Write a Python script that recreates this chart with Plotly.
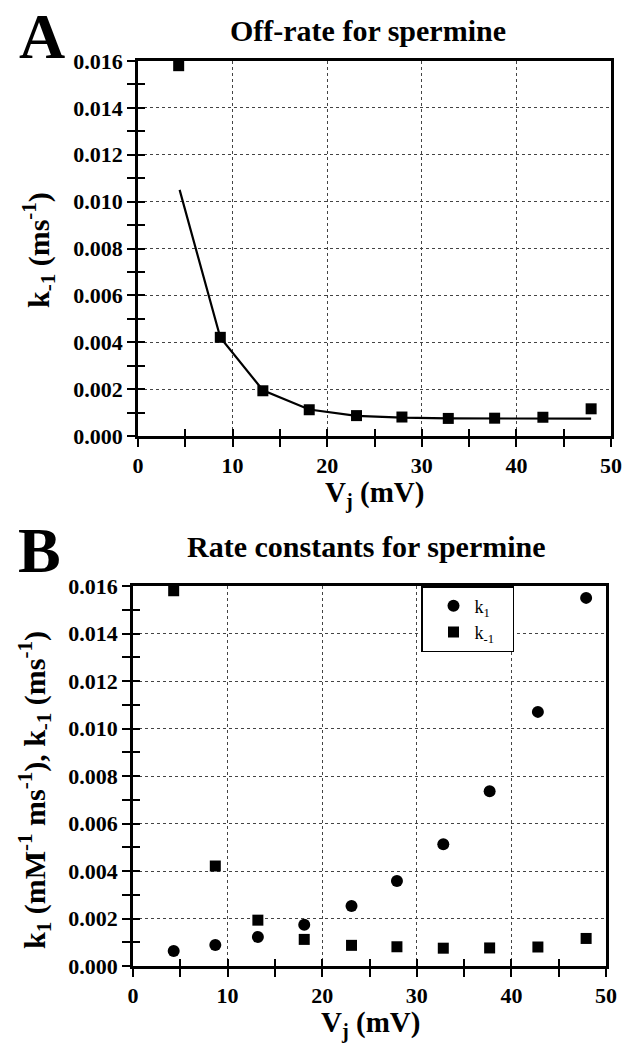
import plotly.graph_objects as go

# ---- data ----
vj = [4.3, 8.7, 13.2, 18.1, 23.1, 27.9, 32.8, 37.7, 42.8, 47.9]
k_off = [0.0158, 0.00421, 0.00193, 0.00112, 0.00087, 0.00081, 0.00075, 0.00076, 0.00080, 0.00116]
fit_x = [4.4, 8.7, 13.2, 18.1, 23.1, 27.9, 32.8, 37.7, 42.8, 47.9]
fit_y = [0.0105, 0.0042, 0.00195, 0.00113, 0.00086, 0.00078, 0.00075, 0.00074, 0.00074, 0.00074]
k_on = [0.00063, 0.00088, 0.00122, 0.00174, 0.00253, 0.00358, 0.00513, 0.00736, 0.0107, 0.0155]
x_ticks = [0, 10, 20, 30, 40, 50]
y_ticks = [0.000, 0.002, 0.004, 0.006, 0.008, 0.010, 0.012, 0.014, 0.016]

W, H = 634, 1045
FONT = "Liberation Serif"

def px(x):
    return x / W

def py(y):
    return 1 - y / H

# panel geometry (pixels)
A_x = [138, 611]
A_y = [61, 436]
B_x = [133, 606]
B_y = [586, 966]

fig = go.Figure()

# Panel A
fig.add_trace(go.Scatter(x=fit_x, y=fit_y, mode="lines", line=dict(color="black", width=2.2),
                         xaxis="x", yaxis="y", showlegend=False))
fig.add_trace(go.Scatter(x=vj, y=k_off, mode="markers",
                         marker=dict(symbol="square", size=11, color="black"),
                         xaxis="x", yaxis="y", showlegend=False))
# Panel B
fig.add_trace(go.Scatter(x=vj, y=k_on, mode="markers", name="k<sub>1</sub>&nbsp;&nbsp;&nbsp;",
                         marker=dict(symbol="circle", size=12, color="black"),
                         xaxis="x2", yaxis="y2"))
fig.add_trace(go.Scatter(x=vj, y=k_off, mode="markers", name="k<sub>-1</sub>&nbsp;&nbsp;&nbsp;",
                         marker=dict(symbol="square", size=11, color="black"),
                         xaxis="x2", yaxis="y2"))
# invisible traces for inside-tick overlay axes
for xa, ya in [("x3", "y3"), ("x4", "y4")]:
    fig.add_trace(go.Scatter(x=[None], y=[None], xaxis=xa, yaxis=ya, showlegend=False, hoverinfo="skip"))

tickfont = dict(family=FONT, size=22, color="black", weight="bold")

def xaxis_main(domain, anchor):
    return dict(domain=domain, anchor=anchor, range=[0, 50], tickvals=x_ticks,
                ticks="outside", ticklen=8, tickwidth=2, tickcolor="black",
                minor=dict(dtick=5, ticks="outside", ticklen=8, tickwidth=2, tickcolor="black", showgrid=False),
                showgrid=True, gridcolor="#444", gridwidth=1, griddash="dot",
                showline=True, linecolor="black", linewidth=2.5, mirror=True,
                zeroline=False, tickfont=tickfont, automargin=False)

def yaxis_main(domain, anchor):
    return dict(domain=domain, anchor=anchor, range=[0, 0.016], tickvals=y_ticks, tickformat=".3f",
                ticks="outside", ticklen=8, tickwidth=2, tickcolor="black",
                minor=dict(dtick=0.001, ticks="outside", ticklen=8, tickwidth=2, tickcolor="black", showgrid=False),
                showgrid=True, gridcolor="#444", gridwidth=1, griddash="dot",
                showline=True, linecolor="black", linewidth=2.5, mirror=True,
                zeroline=False, tickfont=tickfont, automargin=False)

def xaxis_in(domain, anchor, over):
    return dict(domain=domain, anchor=anchor, overlaying=over, range=[0, 50], tickvals=x_ticks,
                ticks="inside", ticklen=7, tickwidth=2, tickcolor="black",
                minor=dict(dtick=5, ticks="inside", ticklen=7, tickwidth=2, tickcolor="black"),
                showticklabels=False, showgrid=False, showline=False, zeroline=False)

def yaxis_in(domain, anchor, over):
    return dict(domain=domain, anchor=anchor, overlaying=over, range=[0, 0.016], tickvals=y_ticks,
                ticks="inside", ticklen=7, tickwidth=2, tickcolor="black",
                minor=dict(dtick=0.001, ticks="inside", ticklen=7, tickwidth=2, tickcolor="black"),
                showticklabels=False, showgrid=False, showline=False, zeroline=False)

dAx = [px(A_x[0]), px(A_x[1])]
dAy = [py(A_y[1]), py(A_y[0])]
dBx = [px(B_x[0]), px(B_x[1])]
dBy = [py(B_y[1]), py(B_y[0])]

fig.update_layout(
    width=W, height=H, margin=dict(l=0, r=0, t=0, b=0),
    paper_bgcolor="white", plot_bgcolor="white",
    font=dict(family=FONT, color="black"),
    xaxis=xaxis_main(dAx, "y"), yaxis=yaxis_main(dAy, "x"),
    xaxis2=xaxis_main(dBx, "y2"), yaxis2=yaxis_main(dBy, "x2"),
    xaxis3=xaxis_in(dAx, "y3", "x"), yaxis3=yaxis_in(dAy, "x3", "y"),
    xaxis4=xaxis_in(dBx, "y4", "x2"), yaxis4=yaxis_in(dBy, "x4", "y2"),
    legend=dict(x=px(421), y=py(586), xanchor="left", yanchor="top",
                bgcolor="white", bordercolor="black", borderwidth=1.5,
                font=dict(family=FONT, size=18, color="black"),
                indentation=10, itemwidth=32, tracegroupgap=2),
    showlegend=True,
)

def ann(text, x, y, size, angle=0, bold=True):
    fig.add_annotation(text=text, x=px(x), y=py(y), xref="paper", yref="paper",
                       xanchor="center", yanchor="middle", showarrow=False, textangle=angle,
                       font=dict(family=FONT, size=size, color="black", weight="bold" if bold else "normal"))

ann("A", 42, 36, 64)
ann("B", 39, 550, 64)
ann("Off-rate for spermine", 368, 30, 30)
ann("Rate constants for spermine", 367, 546, 30)
ann("V<sub>j</sub> (mV)", 374, 495, 29)
ann("V<sub>j</sub> (mV)", 370, 1024, 29)
ann("k<sub>-1</sub> (ms<sup>-1</sup>)", 38, 250, 30, angle=-90)
ann("k<sub>1</sub> (mM<sup>-1</sup> ms<sup>-1</sup>), k<sub>-1</sub> (ms<sup>-1</sup>)", 34, 790, 30, angle=-90)

fig.write_html("out.html")
